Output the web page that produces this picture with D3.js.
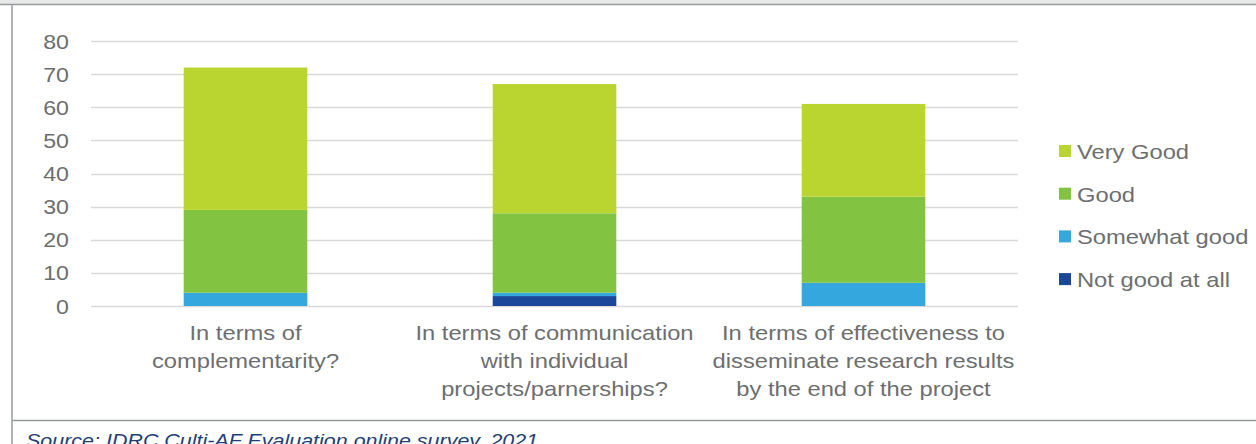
<!DOCTYPE html>
<html>
<head>
<meta charset="utf-8">
<script src="https://cdn.jsdelivr.net/npm/d3@7"></script>
<style>
  html, body { margin: 0; padding: 0; background: #ffffff; }
  svg { display: block; font-family: "Liberation Sans", Arial, sans-serif; }
</style>
</head>
<body>
<svg id="chart" width="1256" height="444"></svg>
<script>
// Survey question categories (x axis, line-broken labels)
const categories = [
  ["In terms of", "complementarity?"],
  ["In terms of communication", "with individual", "projects/parnerships?"],
  ["In terms of effectiveness to", "disseminate research results", "by the end of the project"]
];
const categoryKeys = ["complementarity", "communication", "effectiveness"];

// Response levels, stacked bottom to top
const seriesNames = ["Not good at all", "Somewhat good", "Good", "Very Good"];
const seriesColors = ["#1a4799", "#34a8de", "#82c341", "#bbd530"];

// Counts per response level, one entry per category
const notGoodAtAll = [0, 3, 0];
const somewhatGood = [4, 1, 7];
const good = [25, 24, 26];
const veryGood = [43, 39, 28];

const yTicks = [0, 10, 20, 30, 40, 50, 60, 70, 80];

const rows = categoryKeys.map((k, i) => ({
  key: k,
  "Not good at all": notGoodAtAll[i],
  "Somewhat good": somewhatGood[i],
  "Good": good[i],
  "Very Good": veryGood[i]
}));

const svg = d3.select("#chart");
const W = 1256, H = 444;
const TEXT = "#6d6e70";
const SX = 1.13; // horizontal stretch of the label typeface

// Places a horizontally widened text at (x, y)
function wideText(parent, x, y, str, opts) {
  return parent.append("text")
    .attr("transform", `translate(${x},${y}) scale(${SX},1)`)
    .attr("text-anchor", opts.anchor || "start")
    .attr("font-size", opts.size)
    .attr("font-style", opts.style || "normal")
    .attr("fill", opts.fill || TEXT)
    .text(str);
}

// Frame: grey band on top, border lines
svg.append("rect").attr("x", 0).attr("y", 0).attr("width", W).attr("height", 4).attr("fill", "#e9e9ea");
svg.append("line").attr("x1", 0).attr("x2", W).attr("y1", 4.5).attr("y2", 4.5).attr("stroke", "#979a9c").attr("stroke-width", 1.5);
svg.append("line").attr("x1", 12).attr("x2", 12).attr("y1", 4).attr("y2", H).attr("stroke", "#979a9c").attr("stroke-width", 1.5);
svg.append("line").attr("x1", 12).attr("x2", W).attr("y1", 420.5).attr("y2", 420.5).attr("stroke", "#979a9c").attr("stroke-width", 1.5);

const plot = { left: 91, right: 1018, top: 41, bottom: 306 };

const x = d3.scaleBand()
  .domain(categoryKeys)
  .range([plot.left, plot.right])
  .paddingInner(0.6)
  .paddingOuter(0.3);

const y = d3.scaleLinear().domain([0, 80]).range([plot.bottom, plot.top]);

// Gridlines
svg.append("g")
  .selectAll("line")
  .data(yTicks)
  .join("line")
  .attr("x1", plot.left).attr("x2", plot.right)
  .attr("y1", d => Math.round(y(d)) + 0.5).attr("y2", d => Math.round(y(d)) + 0.5)
  .attr("stroke", "#d9d9d9").attr("stroke-width", 1.5);

// Y axis labels
const yg = svg.append("g");
yTicks.forEach(t => {
  wideText(yg, plot.left - 22, y(t) + 7.5, t, { size: 20.5, anchor: "end" });
});

// Stacked bars
const stack = d3.stack().keys(seriesNames);
const stacked = stack(rows);

svg.append("g")
  .selectAll("g")
  .data(stacked)
  .join("g")
  .attr("fill", (d, i) => seriesColors[i])
  .selectAll("rect")
  .data(d => d)
  .join("rect")
  .attr("x", d => x(d.data.key))
  .attr("width", x.bandwidth())
  .attr("y", d => y(d[1]))
  .attr("height", d => y(d[0]) - y(d[1]));

// Category labels
const xl = svg.append("g");
categories.forEach((lines, i) => {
  const cx = x(categoryKeys[i]) + x.bandwidth() / 2;
  lines.forEach((ln, j) => {
    wideText(xl, cx, 340 + j * 28, ln, { size: 21, anchor: "middle" });
  });
});

// Legend (top to bottom: Very Good ... Not good at all)
const legendOrder = [3, 2, 1, 0];
const lg = svg.append("g");
legendOrder.forEach((si, r) => {
  const cy = 151 + r * 42.7;
  lg.append("rect")
    .attr("x", 1059).attr("y", cy - 6).attr("width", 12).attr("height", 12)
    .attr("fill", seriesColors[si]);
  wideText(lg, 1077, cy + 8, seriesNames[si], { size: 21 });
});

// Source note
wideText(svg, 26, 447, "Source: IDRC Culti-AF Evaluation online survey, 2021",
  { size: 19, style: "italic", fill: "#1f3f77" });
</script>
</body>
</html>
